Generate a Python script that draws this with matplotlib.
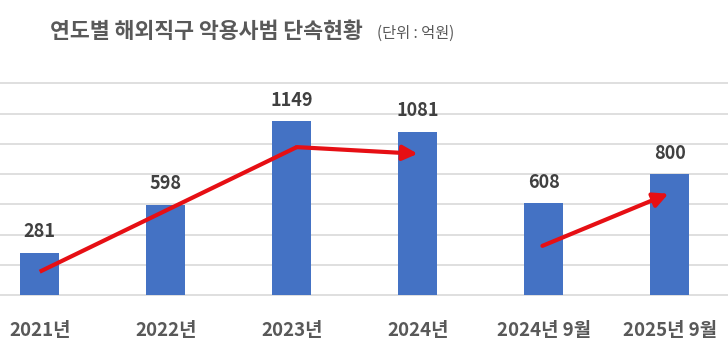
import matplotlib
matplotlib.use("Agg")
import matplotlib.pyplot as plt

plt.rcParams['font.family'] = ['Noto Sans CJK KR', 'DejaVu Sans']

# ---- data ----
categories = ["2021년", "2022년", "2023년", "2024년", "2024년 9월", "2025년 9월"]
values = [281, 598, 1149, 1081, 608, 800]
title = "연도별 해외직구 악용사범 단속현황"
unit_note = "(단위 : 억원)"
# trend arrows (category index, value)
trend1_x = [0, 2.04, 3.0]
trend1_y = [154, 978, 934]
trend2_x = [3.99, 4.99]
trend2_y = [325, 670]

bar_color = "#4472C4"
text_color = "#595959"
label_color = "#404040"
grid_color = "#d9d9d9"
red = "#e60f14"

fig = plt.figure(figsize=(7.28, 3.52), dpi=100)
ax = fig.add_axes([0, (352 - 295) / 352, 1, (295 - 83.3) / 352])

x = list(range(len(categories)))
bars = ax.bar(x, values, width=0.31, color=bar_color, zorder=2)
ax.set_xlim(-39.7 / 126, (728 - 39.7) / 126)
ax.set_ylim(0, 1400)
ax.set_yticks(range(0, 1401, 200))
ax.yaxis.grid(True, color=grid_color, lw=1.2, zorder=0)
for gl in ax.get_ygridlines():
    gl.set_clip_on(False)
ax.tick_params(axis='y', left=False, labelleft=False)
for s in ax.spines.values():
    s.set_visible(False)

ax.set_xticks(x)
ax.set_xticklabels(categories, fontsize=13.5, fontweight='bold', color=text_color)
ax.tick_params(axis='x', length=0, pad=19)

ax.bar_label(bars, labels=[str(v) for v in values], padding=8,
             fontsize=13, fontweight='bold', color=label_color)

# trend arrows
ax.plot(trend1_x[:-1], trend1_y[:-1], color=red, lw=3, solid_capstyle='butt', zorder=3)
ax.annotate("", xy=(trend1_x[-1], trend1_y[-1]), xytext=(trend1_x[-2], trend1_y[-2]),
            arrowprops=dict(arrowstyle='-|>', color=red, lw=3, mutation_scale=22,
                            shrinkA=0, shrinkB=0), zorder=3)
ax.annotate("", xy=(trend2_x[-1], trend2_y[-1]), xytext=(trend2_x[0], trend2_y[0]),
            arrowprops=dict(arrowstyle='-|>', color=red, lw=3, mutation_scale=22,
                            shrinkA=0, shrinkB=0), zorder=3)

fig.text(50 / 728, 1 - 31 / 352, title, ha='left', va='center',
         fontsize=15.6, fontweight='bold', color=text_color)
fig.text(377 / 728, 1 - 33 / 352, unit_note, ha='left', va='center',
         fontsize=11, color=text_color)

fig.savefig("out.png", dpi=100)
